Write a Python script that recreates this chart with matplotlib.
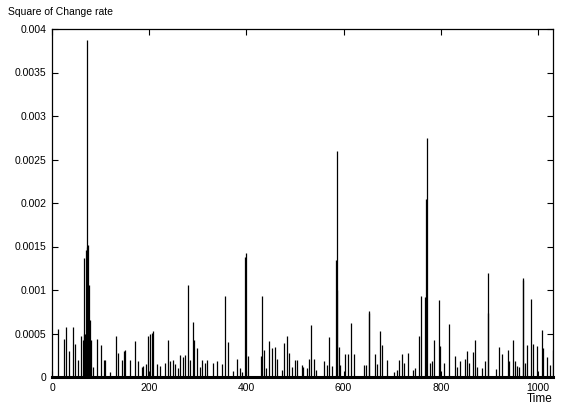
import matplotlib
matplotlib.use("Agg")
import matplotlib.pyplot as plt

plt.rcParams['font.family'] = ['Liberation Sans', 'DejaVu Sans']

# spike positions (time) and values
times = [13, 24, 29, 36, 44, 47, 53, 60, 63,
         65, 66, 67, 68, 69, 70, 71, 72, 73, 74, 75, 76, 77, 78, 79, 80,
         84, 92, 100, 106, 109, 119, 132, 135, 145, 148, 151, 160, 171, 176,
         185, 188, 193, 198, 202, 205, 208, 217, 223, 233, 238, 243, 248, 253,
         259, 263, 269, 273, 279, 285, 290, 292, 298, 305, 309, 315, 320, 331,
         340, 349, 357, 363, 373, 380, 387, 392, 398, 399, 404, 430, 432, 436,
         440, 447, 452, 459, 464, 473, 478, 483, 488, 493, 501, 505, 514, 517,
         524, 529, 534, 539, 543, 560, 565, 571, 576, 585, 586, 587, 590, 593,
         603, 610, 615, 621, 643, 646, 652, 653, 665, 669, 676, 680, 689, 704,
         709, 715, 720, 724, 732, 742, 748, 755, 759, 767, 770, 771, 778, 781,
         787, 797, 798, 807, 816, 830, 834, 840, 850, 854, 859, 866, 870, 874,
         884, 891, 897, 898, 913, 920, 927, 938, 941, 948, 952, 957, 962, 969,
         970, 974, 978, 986, 990, 999, 1008, 1011, 1018, 1025, 1030]
values = [0.00055, 0.00044, 0.00058, 0.00030, 0.00058, 0.00038, 0.00020, 0.00047, 0.00042,
          0.00050, 0.00137, 0.00040, 0.00050, 0.00045, 0.00146, 0.00050, 0.00150, 0.00387, 0.00152,
          0.00090, 0.00106, 0.00040, 0.00066, 0.00030, 0.00043,
          0.00011, 0.00044, 0.00037, 0.00020, 0.00020, 0.00006, 0.00047, 0.00028, 0.00020, 0.00030,
          0.00031, 0.00020, 0.00041, 0.00018,
          0.00011, 0.00013, 0.00015, 0.00047, 0.00050, 0.00051, 0.00053, 0.00015, 0.00013, 0.00016,
          0.00043, 0.00018, 0.00020, 0.00015,
          0.00010, 0.00025, 0.00023, 0.00025, 0.00106, 0.00020, 0.00063, 0.00043, 0.00033, 0.00011,
          0.00020, 0.00016, 0.00020, 0.00016,
          0.00018, 0.00015, 0.00093, 0.00040, 0.00007, 0.00021, 0.00010, 0.00006, 0.00138, 0.00142,
          0.00024, 0.00024, 0.00093, 0.00031,
          0.00010, 0.00041, 0.00033, 0.00034, 0.00021, 0.00008, 0.00039, 0.00047, 0.00028, 0.00011,
          0.00020, 0.00020, 0.00014, 0.00011,
          0.00010, 0.00021, 0.00060, 0.00021, 0.00008, 0.00018, 0.00014, 0.00046, 0.00013, 0.00134,
          0.00260, 0.00100, 0.00035, 0.00014,
          0.00026, 0.00027, 0.00062, 0.00027, 0.00014, 0.00014, 0.00076, 0.00074, 0.00026, 0.00015,
          0.00053, 0.00037, 0.00020, 0.00006,
          0.00008, 0.00020, 0.00026, 0.00016, 0.00028, 0.00008, 0.00010, 0.00047, 0.00093, 0.00092,
          0.00205, 0.00275, 0.00016, 0.00018,
          0.00043, 0.00088, 0.00036, 0.00016, 0.00061, 0.00024, 0.00012, 0.00018, 0.00021, 0.00030,
          0.00016, 0.00029, 0.00043, 0.00011,
          0.00010, 0.00018, 0.00073, 0.00120, 0.00009, 0.00034, 0.00026, 0.00031, 0.00018, 0.00043,
          0.00018, 0.00013, 0.00011, 0.00112,
          0.00114, 0.00016, 0.00037, 0.00090, 0.00038, 0.00036, 0.00054, 0.00033, 0.00023, 0.00014,
          0.00031]

xticks = [0, 200, 400, 600, 800, 1000]
yticks = [0, 0.0005, 0.001, 0.0015, 0.002, 0.0025, 0.003, 0.0035, 0.004]
ytick_labels = ["0", "0.0005", "0.001", "0.0015", "0.002", "0.0025", "0.003", "0.0035", "0.004"]

fig = plt.figure(figsize=(5.63, 4.09), dpi=100)
ax = fig.add_axes([52 / 563, 1 - 377 / 409, (553 - 52) / 563, (377 - 29) / 409])

ax.vlines(times, 0, values, colors='black', linewidth=0.9)

ax.set_xlim(0, 1031)
ax.set_ylim(0, 0.004)
ax.set_xticks(xticks)
ax.set_xticklabels([str(t) for t in xticks])
ax.set_yticks(yticks)
ax.set_yticklabels(ytick_labels)
ax.tick_params(direction='in', length=4, width=0.8, top=True, right=True,
               labelsize=7.5, pad=4, colors='black')
for s in ax.spines.values():
    s.set_linewidth(0.9)
ax.spines['bottom'].set_linewidth(2.2)

fig.text(553 / 563, 1 - 405 / 409, "Time", ha='right', va='bottom', fontsize=8.5)
fig.text(8 / 563, 1 - 12 / 409, "Square of Change rate", ha='left', va='center', fontsize=7.5)

fig.savefig("out.png", dpi=100)
